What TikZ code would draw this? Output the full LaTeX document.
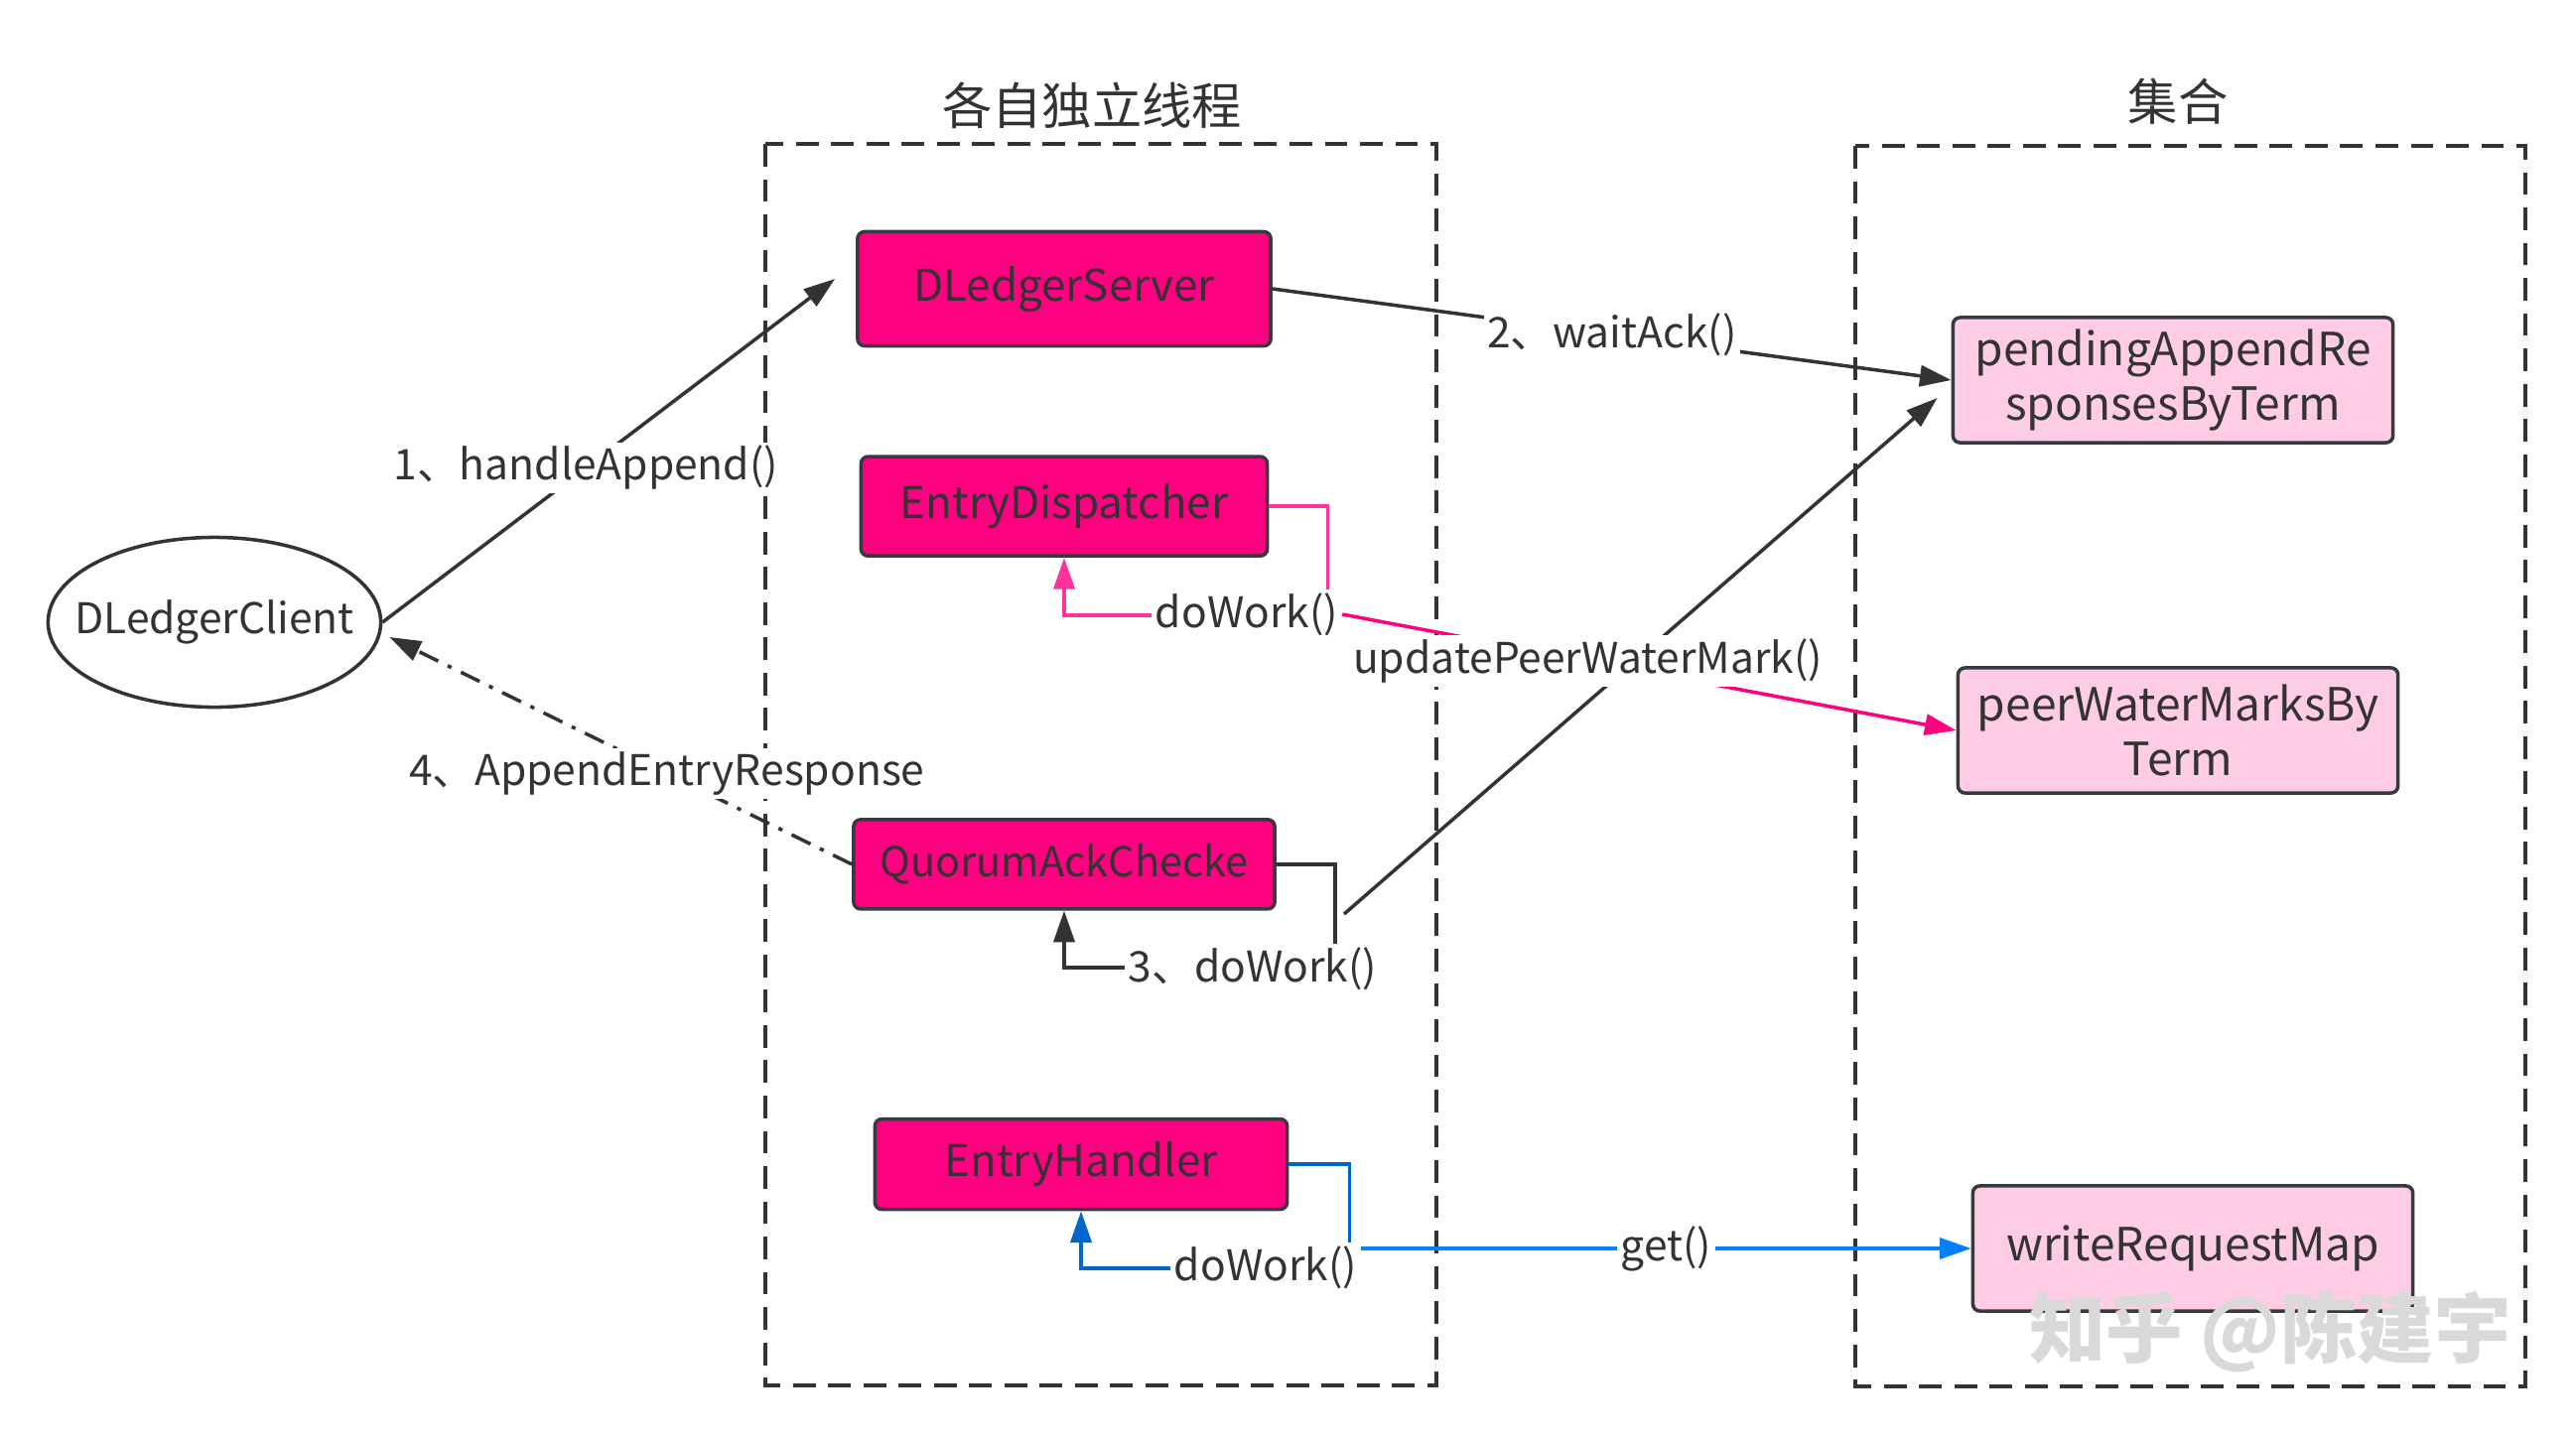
\documentclass[tikz,border=0pt]{standalone}
\usepackage{fontspec}
\setmainfont{Noto Sans CJK SC}
\usepackage{tikz}
\usetikzlibrary{arrows.meta,shapes,positioning}

\definecolor{boxpink}{HTML}{FF0080}
\definecolor{lightpink}{HTML}{FFCCE6}
\definecolor{inkgray}{HTML}{333333}
\definecolor{borderdark}{HTML}{36393D}
\definecolor{looppink}{HTML}{FF3399}
\definecolor{loopblue}{HTML}{0066CC}
\definecolor{getblue}{HTML}{007FFF}

\begin{document}
\begin{tikzpicture}[x=0.01cm,y=-0.01cm,font=\fontsize{12.1}{15}\selectfont,text=inkgray,
  thread box/.style={rectangle,rounded corners=2pt,draw=borderdark,fill=boxpink,line width=1pt,
    minimum width=4.16cm,minimum height=1.0cm,inner sep=0pt,font=\fontsize{12.5}{15}\selectfont},
  set box/.style={rectangle,rounded corners=2pt,draw=borderdark,fill=lightpink,line width=1pt,
    minimum width=4.43cm,minimum height=1.26cm,align=center,inner sep=0pt,
    font=\fontsize{13.1}{15.5}\selectfont},
  group frame/.style={draw=inkgray,line width=1.1pt,dash pattern=on 6.5pt off 3.6pt},
  title/.style={font=\fontsize{14.3}{17}\selectfont},
  edge label/.style={fill=white,inner sep=1pt},
  tip/.style={-{Triangle[length=9pt,width=6pt]}},
  flow/.style={draw=inkgray,line width=1pt,tip},
  reply/.style={draw=inkgray,line width=1pt,tip,dash pattern=on 6pt off 3pt on 1.2pt off 3pt}]

  \useasboundingbox (0,0) rectangle (2595,1448);

  % two groups
  \draw[group frame] (771,145) rectangle (1447,1396);
  \draw[group frame] (1869,147) rectangle (2544,1397);
  \node[title] (threadTitle) at (1100,106) {各自独立线程};
  \node[title] (setTitle) at (2194,102) {集合};

  \node[ellipse,draw=inkgray,line width=1pt,minimum width=3.35cm,minimum height=1.71cm,
    inner xsep=-0.25cm,inner ysep=0pt] (client) at (216,627) {DLedgerClient};

  \node[thread box,minimum height=1.15cm] (server) at (1072,291) {DLedgerServer};
  \node[thread box,minimum width=4.09cm] (disp) [below=1.08cm of server] {EntryDispatcher};
  \node[thread box,minimum width=4.24cm,minimum height=0.9cm,font=\fontsize{11.8}{14}\selectfont] (quorum) [below=2.62cm of disp] {QuorumAckChecke};
  \node[thread box,minimum width=4.15cm,minimum height=0.91cm,xshift=0.17cm] (handler) [below=2.08cm of quorum] {EntryHandler};

  \node[set box] (pending) at (2189,383) {pendingAppendRe\\sponsesByTerm};
  \node[set box] (peer) at (2194,736) {peerWaterMarksBy\\Term};
  \node[set box] (wrm) at (2209,1258) {writeRequestMap};

  % calls
  \draw[flow] (client.east) -- ([shift={(-21,-10)}]server.west)
    node[edge label,pos=0.45] (L1) {1、handleAppend()};
  \draw[flow] (server.east) -- (pending.west)
    node[edge label,midway] (L2) {2、waitAck()};
  \draw[reply] (quorum.west) -- ([shift={(7,15)}]client.east)
    node[edge label,pos=0.4] (L4) {4、AppendEntryResponse};

  % worker loops
  \draw[draw=looppink,line width=1pt,tip] (disp.east) -- ++(59,0) -- ++(0,110) -| (disp.south);
  \draw[flow] (quorum.east) -- ++(59,0) -- ++(0,104) -| (quorum.south);
  \draw[draw=loopblue,line width=1pt,tip] (handler.east) -- ++(61,0) -- ++(0,105) -| (handler.south);

  \node[edge label] (dWork) at (1256,619) {doWork()};
  \node[edge label] (qWork) at (1262,976) {3、doWork()};
  \node[edge label] (hWork) at (1275,1277) {doWork()};

  \coordinate (qStart) at (1354,921);
  \draw[flow] (qStart) -- ([shift={(-14,18)}]pending.west);
  \draw[draw=boxpink,line width=1pt,tip] (dWork.east) -- (peer.west)
    node[edge label,pos=0.4] (L5) {updatePeerWaterMark()};
  \draw[draw=getblue,line width=1pt,tip] (hWork.east |- wrm.west) -- (wrm.west)
    node[edge label,midway] (L6) {get()};

  \node[font=\fontsize{22}{24}\selectfont\bfseries,text=black!15] (mark) at (2287,1342) {知乎 @陈建宇};
\end{tikzpicture}
\end{document}
